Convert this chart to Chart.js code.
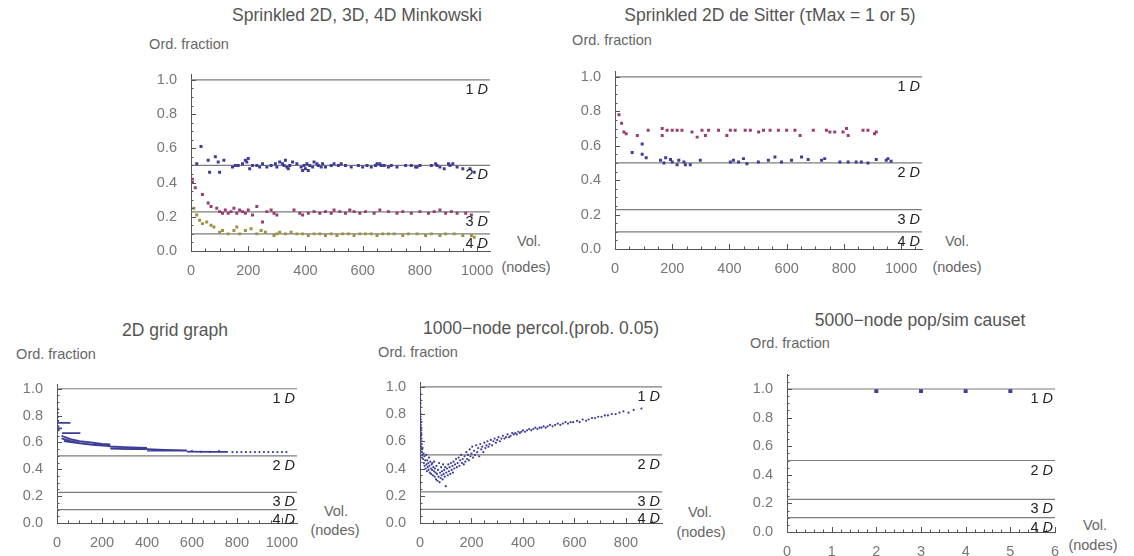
<!DOCTYPE html>
<html>
<head>
<meta charset="utf-8">
<script src="https://cdn.jsdelivr.net/npm/chart.js@4.4.0/dist/chart.umd.min.js"></script>
<style>
  body { margin: 0; width: 1134px; height: 556px; position: relative; overflow: hidden; background: #fff;
         font-family: "Liberation Sans", Arial, sans-serif; }
  .box { position: absolute; }
  .t { position: absolute; white-space: nowrap; transform: translate(-50%, -50%); }
  .title { font-size: 17.5px; color: #555; }
  .lab { font-size: 14.5px; color: #666; }
</style>
</head>
<body>

<div class="t title" style="left:357px;top:15px">Sprinkled 2D, 3D, 4D Minkowski</div>
<div class="t lab" style="left:189px;top:44px">Ord. fraction</div>
<div class="t lab" style="left:529px;top:241px">Vol.</div>
<div class="t lab" style="left:526px;top:267px">(nodes)</div>
<div class="box" id="b1"><canvas id="c1"></canvas></div>

<div class="t title" style="left:770px;top:15px">Sprinkled 2D de Sitter (τMax = 1 or 5)</div>
<div class="t lab" style="left:612px;top:40px">Ord. fraction</div>
<div class="t lab" style="left:957px;top:241px">Vol.</div>
<div class="t lab" style="left:957px;top:267px">(nodes)</div>
<div class="box" id="b2"><canvas id="c2"></canvas></div>

<div class="t title" style="left:175px;top:330px">2D grid graph</div>
<div class="t lab" style="left:56px;top:354px">Ord. fraction</div>
<div class="t lab" style="left:336px;top:511px">Vol.</div>
<div class="t lab" style="left:335px;top:530px">(nodes)</div>
<div class="box" id="b3"><canvas id="c3"></canvas></div>

<div class="t title" style="left:541px;top:328px">1000−node percol.(prob. 0.05)</div>
<div class="t lab" style="left:418px;top:352px">Ord. fraction</div>
<div class="t lab" style="left:700px;top:512px">Vol.</div>
<div class="t lab" style="left:701px;top:532px">(nodes)</div>
<div class="box" id="b4"><canvas id="c4"></canvas></div>

<div class="t title" style="left:920px;top:320px">5000−node pop/sim causet</div>
<div class="t lab" style="left:790px;top:343px">Ord. fraction</div>
<div class="t lab" style="left:1095px;top:525px">Vol.</div>
<div class="t lab" style="left:1093px;top:545px">(nodes)</div>
<div class="box" id="b5"><canvas id="c5"></canvas></div>

<script>
// reference levels: ordering fraction of 1D..4D Minkowski
const refLevels = [1, 0.5, 8 / 35, 0.1];
const refNames = ["1", "2", "3", "4"];

// sprinkled Minkowski
const mink2X = [20,35,60,65,85,95,100,115,145,165,180,190,200,205,215,230,250,265,280,295,300,310,325,330,340,345,355,370,385,390,400,405,415,425,430,445,460,470,490,500,515,525,540,560,585,600,615,630,645,660,675,690,720,750,770,785,800,840,855,870,885,900,915,930,950,975,990,
  155,195,240,320,335,395,410,440,455,650,665,700,790,860,905];
const mink2Y = [0.51,0.61,0.53,0.46,0.55,0.52,0.46,0.53,0.49,0.50,0.51,0.53,0.54,0.48,0.50,0.50,0.51,0.49,0.50,0.51,0.49,0.52,0.50,0.53,0.48,0.50,0.52,0.51,0.49,0.47,0.48,0.51,0.50,0.49,0.52,0.50,0.51,0.49,0.50,0.51,0.50,0.51,0.50,0.49,0.50,0.49,0.50,0.49,0.50,0.51,0.50,0.49,0.49,0.50,0.50,0.49,0.50,0.50,0.51,0.49,0.48,0.51,0.51,0.49,0.48,0.48,0.46,
  0.50,0.52,0.49,0.51,0.49,0.50,0.47,0.51,0.49,0.51,0.50,0.50,0.49,0.50,0.50];
const mink3X = [5,5,15,40,60,70,90,100,110,120,130,140,150,160,170,180,190,200,215,230,250,265,280,290,300,360,380,390,410,430,450,470,490,500,520,540,555,570,590,610,640,660,690,720,740,770,800,830,850,870,890,910,930,960,980];
const mink3Y = [0.42,0.40,0.37,0.33,0.28,0.26,0.25,0.23,0.22,0.24,0.22,0.23,0.25,0.22,0.24,0.23,0.22,0.24,0.21,0.26,0.17,0.23,0.24,0.22,0.21,0.24,0.22,0.21,0.22,0.23,0.22,0.23,0.22,0.24,0.23,0.22,0.24,0.23,0.22,0.23,0.22,0.24,0.23,0.22,0.23,0.22,0.23,0.22,0.23,0.24,0.22,0.23,0.22,0.22,0.21];
const mink4X = [10,20,30,40,55,70,80,100,110,130,150,160,170,190,210,230,245,260,290,300,310,330,350,370,390,410,430,450,470,490,510,530,550,570,590,610,630,650,670,690,710,740,760,790,820,840,870,890,920,950,980,990];
const mink4Y = [0.25,0.21,0.18,0.16,0.17,0.15,0.14,0.11,0.12,0.10,0.12,0.14,0.10,0.12,0.13,0.10,0.12,0.11,0.09,0.10,0.11,0.10,0.11,0.10,0.10,0.09,0.10,0.10,0.09,0.10,0.09,0.10,0.10,0.09,0.10,0.10,0.10,0.09,0.10,0.10,0.10,0.09,0.10,0.10,0.09,0.10,0.09,0.10,0.10,0.09,0.09,0.08];

// de Sitter
const sitUpX = [14,23,31,39,78,116,165,165,182,200,217,234,269,287,304,316,327,362,391,403,420,455,473,502,519,542,571,600,629,647,693,739,751,768,797,809,815,867,884,907,913];
const sitUpY = [0.78,0.73,0.68,0.67,0.66,0.69,0.70,0.66,0.69,0.69,0.69,0.69,0.68,0.65,0.69,0.66,0.69,0.69,0.66,0.69,0.69,0.69,0.69,0.68,0.69,0.69,0.69,0.69,0.69,0.66,0.69,0.69,0.68,0.68,0.68,0.70,0.66,0.69,0.69,0.67,0.68];
const sitLoX = [60,95,95,109,159,171,177,194,200,217,223,241,246,263,298,403,414,432,449,461,501,536,559,582,617,652,675,722,733,786,815,843,861,884,913,948,954,965];
const sitLoY = [0.56,0.55,0.61,0.53,0.515,0.50,0.53,0.52,0.505,0.49,0.515,0.505,0.49,0.49,0.515,0.505,0.515,0.505,0.525,0.495,0.505,0.515,0.535,0.505,0.515,0.535,0.52,0.515,0.525,0.505,0.505,0.505,0.505,0.50,0.52,0.515,0.525,0.51];

// 2D grid graph (null = break in the trace)
const gridPathX = [0,60,null, 0,22,null, 22,104,null, 20,60,100,150,200,237,null, 20,60,100,150,200,237,null, 30,70,120,170,220,237,null, 237,300,400,null, 237,320,400,null, 400,480,577,null, 400,577,null, 577,700,760];
const gridPathY = [0.745,0.745,null, 0.705,0.705,null, 0.67,0.67,null, 0.65,0.625,0.61,0.60,0.59,0.585,null, 0.63,0.61,0.595,0.585,0.578,0.575,null, 0.61,0.60,0.59,0.58,0.575,0.57,null, 0.57,0.565,0.56,null, 0.555,0.55,0.55,null, 0.55,0.545,0.54,null, 0.54,0.54,null, 0.532,0.53,0.53];
const gridDotX = [2,3,4,5,6,7,600,640,680,720,780,800,820,840,860,880,900,920,940,960,980,1000,1020];
const gridDotY = [0.85,0.82,0.79,0.76,0.72,0.69,0.535,0.53,0.53,0.535,0.528,0.528,0.528,0.528,0.528,0.528,0.528,0.528,0.528,0.528,0.528,0.528,0.528];

// percolation
const percX = [1,1,2,2,1,3,2,3,4,3,4,5,5,4,6,6,7,5,8,7,9,8,
  10,12,14,15,17,18,20,22,24,25,27,28,30,32,33,35,36,38,40,42,43,45,47,48,50,52,54,55,57,58,60,
  62,64,66,68,70,72,74,76,78,80,82,84,86,88,90,92,94,96,98,100,102,105,108,110,112,115,118,120,123,126,128,
  130,133,136,140,143,146,150,153,156,160,163,166,170,173,176,180,183,186,190,193,196,200,
  203,206,210,214,218,222,226,230,234,238,242,246,250,254,258,262,266,270,275,280,285,290,295,300,
  305,310,316,322,328,334,340,346,352,358,364,370,376,382,388,394,
  400,408,416,424,432,440,448,456,464,472,480,488,496,
  505,515,525,535,545,555,565,575,585,595,
  610,620,632,645,655,668,680,692,
  705,718,730,745,760,775,790,810,830,860];
const percY = [0.95,0.91,0.88,0.85,0.82,0.80,0.78,0.76,0.74,0.72,0.70,0.68,0.66,0.64,0.62,0.60,0.58,0.56,0.54,0.52,0.50,0.48,
  0.55,0.47,0.51,0.44,0.49,0.42,0.46,0.40,0.50,0.43,0.38,0.46,0.41,0.44,0.39,0.48,0.42,0.37,0.45,0.40,0.36,0.43,0.39,0.44,0.35,0.41,0.38,0.45,0.34,0.40,0.37,
  0.32,0.42,0.36,0.31,0.39,0.34,0.44,0.30,0.37,0.33,0.41,0.35,0.38,0.32,0.43,0.36,0.39,0.34,0.41,0.27,0.37,0.40,0.35,0.43,0.38,0.41,0.36,0.44,0.39,0.42,0.37,
  0.45,0.40,0.43,0.47,0.41,0.44,0.48,0.42,0.46,0.50,0.44,0.47,0.43,0.49,0.45,0.52,0.47,0.50,0.46,0.54,0.49,0.51,
  0.56,0.48,0.53,0.50,0.57,0.52,0.55,0.49,0.58,0.54,0.56,0.52,0.59,0.55,0.57,0.60,0.56,0.58,0.61,0.57,0.60,0.62,0.59,0.61,
  0.63,0.60,0.62,0.64,0.62,0.63,0.65,0.63,0.64,0.66,0.65,0.66,0.65,0.67,0.66,0.67,
  0.68,0.67,0.68,0.69,0.68,0.69,0.70,0.69,0.70,0.70,0.71,0.70,0.71,
  0.72,0.71,0.72,0.73,0.72,0.73,0.74,0.73,0.74,0.74,
  0.75,0.74,0.76,0.75,0.76,0.77,0.77,0.78,
  0.78,0.79,0.79,0.80,0.80,0.81,0.82,0.81,0.83,0.84];

// pop/sim causet
const popX = [2, 3, 4, 5];
const popY = [0.985, 0.985, 0.985, 0.985];

const BLUE = "#3d3d99", MAGENTA = "#993d71", OLIVE = "#9c913e";
const FONT = '"Liberation Sans", Arial, sans-serif';

Chart.defaults.font.family = FONT;

function pts(xs, ys) {
  return xs.map((x, i) => ({ x: x, y: ys[i] }));
}

function dots(xs, ys, color, style, r) {
  return { data: pts(xs, ys), backgroundColor: color, borderWidth: 0,
           pointStyle: style, pointRadius: r, order: 1 };
}

function refSets(xMax) {
  return refLevels.map((lv) => ({
    data: [{ x: 0, y: lv }, { x: xMax, y: lv }],
    showLine: true, pointRadius: 0, borderColor: "#7d7d7d", borderWidth: 1.2, order: 5
  }));
}

// inward Mathematica-style ticks plus the "n D" labels
const axisDecor = {
  id: "axisDecor",
  afterDatasetsDraw(chart, args, o) {
    const ctx = chart.ctx, a = chart.chartArea, x = chart.scales.x, y = chart.scales.y;
    ctx.save();
    ctx.strokeStyle = "#555";
    ctx.lineWidth = 1;
    ctx.beginPath();
    for (let i = 0; i * o.yMinor <= y.max + 1e-9; i++) {
      const py = Math.round(y.getPixelForValue(i * o.yMinor)) + 0.5;
      const len = i % o.yEvery === 0 ? 5 : 2.5;
      ctx.moveTo(a.left, py);
      ctx.lineTo(a.left + len, py);
    }
    for (let i = 0; i * o.xMinor <= x.max + 1e-9; i++) {
      const px = Math.round(x.getPixelForValue(i * o.xMinor)) + 0.5;
      const len = i % o.xEvery === 0 ? 5 : 2.5;
      ctx.moveTo(px, a.bottom);
      ctx.lineTo(px, a.bottom - len);
    }
    ctx.stroke();

    ctx.fillStyle = "#222";
    ctx.textBaseline = "middle";
    ctx.textAlign = "right";
    refLevels.forEach((lv, i) => {
      const py = y.getPixelForValue(lv) + 10;
      ctx.font = "italic 14.5px " + FONT;
      const wD = ctx.measureText("D").width;
      ctx.fillText("D", a.right - 2, py);
      ctx.font = "14.5px " + FONT;
      ctx.fillText(refNames[i] + " ", a.right - 2 - wD, py);
    });
    ctx.restore();
  }
};

function makePanel(n, g, datasets) {
  const box = document.getElementById("b" + n);
  const canvas = document.getElementById("c" + n);
  const w = g.R - g.L + 62, h = g.B - g.T + 38;
  box.style.left = (g.L - 50) + "px";
  box.style.top = (g.T - 8) + "px";
  canvas.width = w;
  canvas.height = h;

  return new Chart(canvas, {
    type: "scatter",
    data: { datasets: datasets.concat(refSets(g.xMax)) },
    options: {
      responsive: false,
      animation: false,
      devicePixelRatio: 1,
      layout: { padding: { top: 8, right: 12, left: 0, bottom: 0 } },
      plugins: {
        legend: { display: false },
        tooltip: { enabled: false },
        axisDecor: { yMinor: 0.05, yEvery: 4, xMinor: g.xMinor, xEvery: g.xEvery }
      },
      scales: {
        x: {
          type: "linear", min: 0, max: g.xMax,
          grid: { display: false },
          border: { display: true, color: "#555", width: 1 },
          ticks: { stepSize: g.xStep, includeBounds: false, autoSkip: false, maxRotation: 0,
                   color: "#777", font: { size: 14.5 }, padding: 3,
                   callback: (v) => String(v) },
          afterFit(s) { s.height = 30; }
        },
        y: {
          type: "linear", min: 0, max: g.yMax,
          grid: { display: false },
          border: { display: true, color: "#555", width: 1 },
          ticks: { stepSize: 0.2, includeBounds: false, color: "#777", font: { size: 14.5 }, padding: 6,
                   callback: (v) => v.toFixed(1) },
          afterFit(s) { s.width = 50; }
        }
      }
    },
    plugins: [axisDecor]
  });
}

makePanel(1, { L: 191, R: 490, T: 68, B: 251, xMax: 1045, yMax: 1.03, xStep: 200, xMinor: 50, xEvery: 4 }, [
  dots(mink2X, mink2Y, BLUE, "rect", 2.1),
  dots(mink3X, mink3Y, MAGENTA, "rect", 2.1),
  dots(mink4X, mink4Y, OLIVE, "rect", 2.1)
]);

makePanel(2, { L: 615, R: 922, T: 65, B: 249, xMax: 1073, yMax: 1.03, xStep: 200, xMinor: 50, xEvery: 4 }, [
  dots(sitUpX, sitUpY, MAGENTA, "rect", 2.1),
  dots(sitLoX, sitLoY, BLUE, "rect", 2.1)
]);

makePanel(3, { L: 57, R: 297, T: 378, B: 523, xMax: 1067, yMax: 1.03, xStep: 200, xMinor: 50, xEvery: 4 }, [
  { data: pts(gridPathX, gridPathY), showLine: true, spanGaps: false, pointRadius: 0,
    borderColor: BLUE, borderWidth: 1.8, order: 1 },
  dots(gridDotX, gridDotY, BLUE, "circle", 1.1)
]);

makePanel(4, { L: 420, R: 662, T: 376, B: 523, xMax: 940, yMax: 1.03, xStep: 200, xMinor: 50, xEvery: 4 }, [
  dots(percX, percY, BLUE, "circle", 1.1)
]);

makePanel(5, { L: 787, R: 1055, T: 368, B: 532, xMax: 6, yMax: 1.1, xStep: 1, xMinor: 0.2, xEvery: 5 }, [
  dots(popX, popY, BLUE, "rect", 2.8)
]);
</script>
</body>
</html>
